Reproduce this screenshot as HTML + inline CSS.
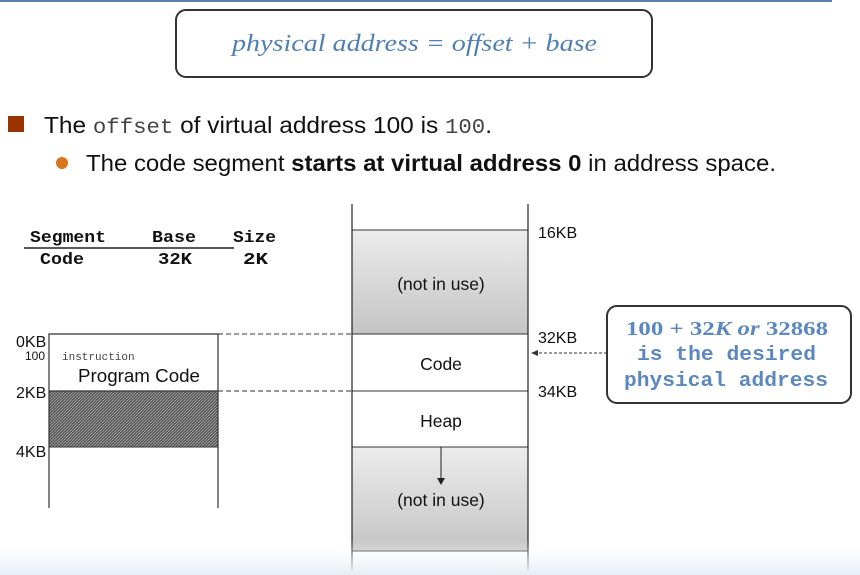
<!DOCTYPE html>
<html><head><meta charset="utf-8"><style>
body{margin:0;width:860px;height:575px;background:#fff;overflow:hidden;position:relative;font-family:"Liberation Sans",sans-serif}
</style></head><body>
<svg width="860" height="575" style="position:absolute;left:0;top:0">
<defs>
<linearGradient id="g" x1="0" y1="0" x2="0" y2="1"><stop offset="0" stop-color="#ececec"/><stop offset="1" stop-color="#c4c4c4"/></linearGradient>
<pattern id="h" width="3" height="3" patternUnits="userSpaceOnUse"><rect width="3" height="3" fill="#555"/><path d="M0 3L3 0" stroke="#aaa" stroke-width="0.8"/></pattern>
<linearGradient id="fade" x1="0" y1="0" x2="0" y2="1"><stop offset="0" stop-color="#fff" stop-opacity="0"/><stop offset="1" stop-color="#e4eef6"/></linearGradient>
</defs>
<line x1="0" y1="1" x2="832" y2="1" stroke="#5a7fa6" stroke-width="2"/>
<rect x="176" y="10" width="476" height="67" rx="10" fill="#fff" stroke="#333" stroke-width="2"/>
<text x="232" y="51" textLength="365" lengthAdjust="spacingAndGlyphs" font-family="Liberation Serif,serif" font-style="italic" font-size="24" fill="#4f7fb8">physical address = offset + base</text>
<rect x="8" y="116" width="16" height="16" fill="#993300"/>
<text x="44" y="133" textLength="448" lengthAdjust="spacingAndGlyphs" font-size="23" fill="#111">The <tspan font-family="Liberation Mono,monospace" font-size="21" fill="#444">offset</tspan> of virtual address 100 is <tspan font-family="Liberation Mono,monospace" font-size="21" fill="#444">100</tspan>.</text>
<circle cx="62" cy="163" r="6" fill="#d9761a"/>
<text x="86" y="171" textLength="690" lengthAdjust="spacingAndGlyphs" font-size="23" fill="#111">The code segment <tspan font-weight="bold">starts at virtual address 0</tspan> in address space.</text>
<g font-family="Liberation Mono,monospace" font-weight="bold" font-size="17" fill="#111">
<text x="30" y="242" textLength="76" lengthAdjust="spacingAndGlyphs">Segment</text><text x="152" y="242" textLength="44" lengthAdjust="spacingAndGlyphs">Base</text><text x="233" y="242" textLength="43" lengthAdjust="spacingAndGlyphs">Size</text>
<text x="40" y="264" textLength="44" lengthAdjust="spacingAndGlyphs">Code</text><text x="158" y="264" textLength="34" lengthAdjust="spacingAndGlyphs">32K</text><text x="243" y="264" textLength="25" lengthAdjust="spacingAndGlyphs">2K</text>
</g>
<line x1="24" y1="248" x2="234" y2="248" stroke="#222" stroke-width="1.5"/>
<rect x="49" y="391" width="169" height="56" fill="url(#h)" stroke="#333"/>
<path d="M49 508V334H218V508M49 391H218" fill="none" stroke="#333" stroke-width="1.2"/>
<g font-size="16" fill="#111">
<text x="16" y="347">0KB</text><text x="16" y="398">2KB</text><text x="16" y="457">4KB</text>
<text x="25" y="360" font-size="12">100</text>
<text x="78" y="382" font-size="18" textLength="122" lengthAdjust="spacingAndGlyphs">Program Code</text>
<text x="538" y="238">16KB</text><text x="538" y="343">32KB</text><text x="538" y="397">34KB</text>
</g>
<text x="62" y="360" font-family="Liberation Mono,monospace" font-size="11" fill="#444">instruction</text>
<line x1="218" y1="334" x2="352" y2="334" stroke="#333" stroke-dasharray="5,3"/>
<line x1="218" y1="391" x2="352" y2="391" stroke="#333" stroke-dasharray="5,3"/>
<rect x="352" y="230" width="176" height="104" fill="url(#g)" stroke="#333"/>
<rect x="352" y="447" width="176" height="104" fill="url(#g)" stroke="#333"/>
<line x1="352" y1="391" x2="528" y2="391" stroke="#333"/>
<line x1="352" y1="204" x2="352" y2="570" stroke="#222" stroke-width="1.2"/>
<line x1="528" y1="204" x2="528" y2="570" stroke="#222" stroke-width="1.2"/>
<line x1="441" y1="447" x2="441" y2="480" stroke="#222"/><path d="M437 478L441 485L445 478Z" fill="#222"/>
<g font-size="17.5" fill="#111" text-anchor="middle">
<text x="441" y="290">(not in use)</text><text x="441" y="370">Code</text><text x="441" y="427">Heap</text><text x="441" y="506">(not in use)</text>
</g>
<rect x="607" y="306" width="244" height="97" rx="10" fill="#fff" stroke="#333" stroke-width="2"/>
<line x1="534" y1="353" x2="607" y2="353" stroke="#333" stroke-dasharray="3,2"/>
<path d="M538 350L531 353L538 356Z" fill="#333"/>
<g font-weight="bold" fill="#5b88c0" font-size="20">
<text x="626" y="335" textLength="202" lengthAdjust="spacingAndGlyphs" font-family="Liberation Serif,serif">100 + 32<tspan font-style="italic">K or</tspan> 32868</text>
<text x="637" y="360" textLength="179" lengthAdjust="spacingAndGlyphs" font-family="Liberation Mono,monospace">is the desired</text>
<text x="624" y="386" textLength="204" lengthAdjust="spacingAndGlyphs" font-family="Liberation Mono,monospace">physical address</text>
</g>
<rect x="0" y="540" width="860" height="35" fill="url(#fade)"/>
</svg>
</body></html>
